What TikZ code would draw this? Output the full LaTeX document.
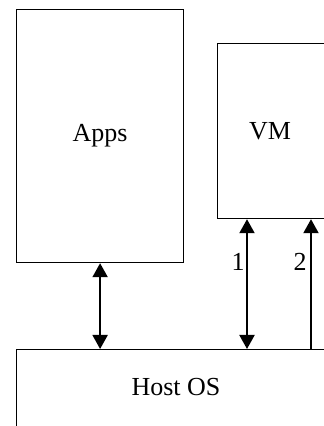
\documentclass[tikz,border=0pt]{standalone}
\usepackage{fontspec}
\setmainfont{Liberation Serif}
\usetikzlibrary{arrows.meta}
\begin{document}
\begin{tikzpicture}[x=1pt,y=1pt,
  block/.style={draw=black,line width=1.2pt,fill=white,inner sep=0pt,font=\fontsize{26}{30}\selectfont},
  link/.style={line width=2pt,draw=black},
  num/.style={font=\fontsize{26}{30}\selectfont,inner sep=0pt}]
  \tikzset{head/.tip={Triangle[width=15pt,length=14pt]}}
  \useasboundingbox (0,0) rectangle (324,426);
  \clip (0,0) rectangle (324,426);
  % boxes (y measured upwards from the bottom edge)
  \node[block,minimum width=167pt,minimum height=253pt,anchor=north west] (apps) at (16,417) {Apps};
  \node[block,minimum width=108pt,minimum height=175pt,anchor=north west] (vm) at (217,383) {};
  \node[font=\fontsize{26}{30}\selectfont] (vmlabel) at (270,295) {VM};
  \node[block,minimum width=320pt,minimum height=77pt,anchor=north west] (host) at (16,77) {};
  \node[font=\fontsize{26}{30}\selectfont] (hostlabel) at (176,39) {Host OS};
  % connectors
  \coordinate (a1) at (247,0 |- vm.south);
  \coordinate (a2) at (311,0 |- vm.south);
  \draw[link,head-head] (apps.south) -- (apps.south |- host.north);
  \draw[link,head-head] (a1) -- (a1 |- host.north);
  \draw[link,-head] (a2 |- host.north) -- (a2);
  \node[num] (n1) at (238,164) {1};
  \node[num] (n2) at (300,164) {2};
\end{tikzpicture}
\end{document}
